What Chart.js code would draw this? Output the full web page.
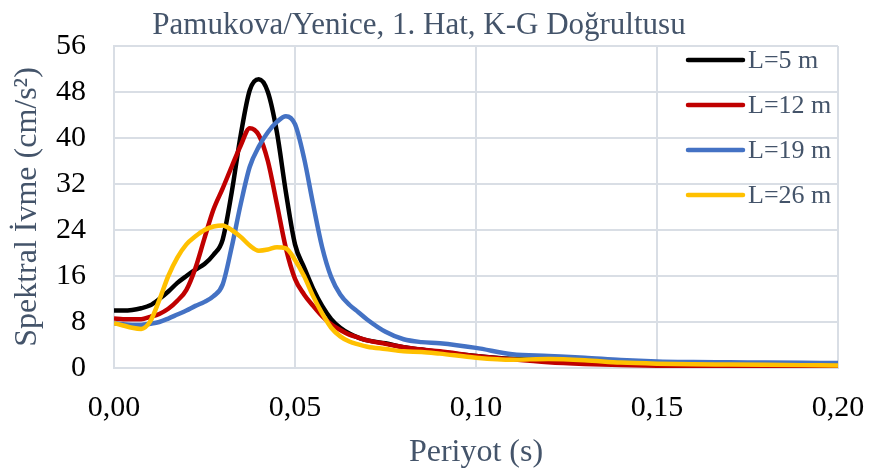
<!DOCTYPE html>
<html>
<head>
<meta charset="utf-8">
<script src="https://cdn.jsdelivr.net/npm/chart.js@4/dist/chart.umd.min.js"></script>
<style>
  html, body { margin: 0; padding: 0; background: #ffffff; }
  #wrap { width: 870px; height: 472px; }
</style>
</head>
<body>
<div id="wrap"><canvas id="c" width="870" height="472"></canvas></div>
<script>
const chartTitle = "Pamukova/Yenice, 1. Hat, K-G Doğrultusu";
const xAxisTitle = "Periyot (s)";
const yAxisTitle = "Spektral İvme (cm/s²)";
const seriesLabels = ["L=5 m", "L=12 m", "L=19 m", "L=26 m"];

const periods = [0, 0.0025, 0.005, 0.0075, 0.01, 0.0125, 0.015, 0.0175, 0.02, 0.0225,
  0.025, 0.0275, 0.03, 0.0325, 0.035, 0.0375, 0.04, 0.0425, 0.045, 0.0475,
  0.05, 0.0525, 0.055, 0.0575, 0.06, 0.0625, 0.065, 0.0675, 0.07, 0.075,
  0.08, 0.085, 0.09, 0.10, 0.11, 0.12, 0.13, 0.14, 0.15, 0.16,
  0.17, 0.18, 0.19, 0.20];

const accL5 = [10.0, 10.0, 10.1, 10.4, 10.9, 12.0, 13.3, 14.8, 16.0, 17.1,
  18.1, 19.7, 22.3, 30.5, 40.5, 48.3, 50.2, 48.0, 41.0, 30.5,
  21.5, 17.5, 13.8, 10.8, 8.5, 7.0, 6.0, 5.3, 4.8, 4.3,
  3.6, 3.2, 2.8, 2.1, 1.6, 1.4, 1.2, 0.9, 0.75, 0.65,
  0.6, 0.55, 0.5, 0.5];

const accL12 = [8.6, 8.5, 8.5, 8.5, 8.9, 9.4, 10.3, 11.7, 13.6, 17.4,
  22.6, 27.6, 31.2, 35.0, 38.7, 41.7, 40.5, 36.0, 28.5, 20.8,
  15.5, 12.8, 10.8, 9.0, 7.6, 6.6, 5.8, 5.3, 4.8, 4.2,
  3.6, 3.2, 2.9, 2.1, 1.5, 1.0, 0.7, 0.5, 0.4, 0.3,
  0.3, 0.25, 0.2, 0.2];

const accL19 = [7.8, 7.6, 7.5, 7.5, 7.7, 8.0, 8.6, 9.3, 10.0, 10.8,
  11.5, 12.5, 14.5, 21.0, 28.5, 35.0, 38.5, 41.0, 42.8, 43.8,
  42.4, 36.5, 28.5, 21.0, 15.8, 12.8, 11.0, 9.7, 8.4, 6.3,
  5.0, 4.5, 4.3, 3.5, 2.4, 2.1, 1.8, 1.4, 1.15, 1.05,
  1.0, 0.95, 0.9, 0.85];

const accL26 = [7.8, 7.4, 7.0, 6.8, 8.1, 11.8, 16.0, 19.2, 21.5, 22.9,
  24.0, 24.6, 24.8, 24.0, 22.8, 21.3, 20.4, 20.6, 21.0, 20.8,
  18.8, 16.0, 12.5, 9.5, 7.0, 5.5, 4.6, 4.1, 3.7, 3.3,
  2.9, 2.8, 2.5, 1.8, 1.45, 1.55, 1.35, 0.95, 0.75, 0.65,
  0.6, 0.55, 0.5, 0.45];

const xTicks = [0, 0.05, 0.10, 0.15, 0.20];
const yTicks = [0, 8, 16, 24, 32, 40, 48, 56];

const seriesValues = [accL5, accL12, accL19, accL26];
const seriesColors = ["#000000", "#C00000", "#4472C4", "#FFC000"];

const SERIF = '"Liberation Serif", "Times New Roman", serif';
const TEXT2 = "#44546A";
const GRID = "#D9DEE5";

function toPoints(vals) {
  return periods.map((p, i) => ({ x: p, y: vals[i] }));
}

const datasets = seriesLabels.map((lab, i) => ({
  label: lab,
  data: toPoints(seriesValues[i]),
  borderColor: seriesColors[i],
  backgroundColor: seriesColors[i],
  borderWidth: 4.5,
  pointRadius: 0,
  fill: false,
  cubicInterpolationMode: 'monotone',
  order: seriesLabels.length - i
}));

const legendPlugin = {
  id: 'insideLegend',
  afterDraw(chart) {
    const ctx = chart.ctx;
    const x0 = 688, x1 = 743, tx = 748;
    const ys = [60, 105, 150, 195];
    ctx.save();
    chart.data.datasets.forEach((ds, i) => {
      const y = ys[i];
      ctx.beginPath();
      ctx.lineCap = 'round';
      ctx.lineWidth = 4.5;
      ctx.strokeStyle = ds.borderColor;
      ctx.moveTo(x0, y);
      ctx.lineTo(x1, y);
      ctx.stroke();
      ctx.fillStyle = TEXT2;
      ctx.font = '26px ' + SERIF;
      ctx.textBaseline = 'middle';
      ctx.textAlign = 'left';
      ctx.fillText(ds.label, tx, y + 1);
    });
    ctx.restore();
  }
};

new Chart(document.getElementById('c'), {
  type: 'line',
  data: { datasets },
  plugins: [legendPlugin],
  options: {
    responsive: false,
    animation: false,
    layout: { padding: { left: 0, right: 32, top: 0, bottom: 0 } },
    plugins: {
      legend: { display: false },
      tooltip: { enabled: false },
      title: {
        display: true,
        text: chartTitle,
        color: TEXT2,
        font: { family: SERIF, size: 31, weight: 'normal', lineHeight: 1.0 },
        padding: { top: 0, bottom: 5 }
      }
    },
    scales: {
      x: {
        type: 'linear',
        min: 0,
        max: 0.2,
        afterBuildTicks: (scale) => { scale.ticks = xTicks.map(v => ({ value: v })); },
        afterFit: (scale) => { scale.height = 104; scale.paddingLeft = 0; scale.paddingRight = 0; },
        ticks: {
          color: '#000000',
          font: { family: SERIF, size: 30 },
          padding: 22,
          maxRotation: 0,
          callback: (v) => Number(v).toFixed(2).replace('.', ',')
        },
        grid: { color: GRID, lineWidth: 2, drawTicks: false },
        border: { color: GRID, width: 2 },
        title: {
          display: true,
          text: xAxisTitle,
          color: TEXT2,
          font: { family: SERIF, size: 32 },
          padding: { top: 0, bottom: 0 }
        }
      },
      y: {
        type: 'linear',
        min: 0,
        max: 56,
        afterBuildTicks: (scale) => { scale.ticks = yTicks.map(v => ({ value: v })); },
        afterFit: (scale) => { scale.width = 114; },
        ticks: {
          color: '#000000',
          font: { family: SERIF, size: 30 },
          padding: 28
        },
        grid: { color: GRID, lineWidth: 2, drawTicks: false },
        border: { color: GRID, width: 2 },
        title: {
          display: true,
          text: yAxisTitle,
          color: TEXT2,
          font: { family: SERIF, size: 32 },
          padding: { top: 8, bottom: 0 }
        }
      }
    }
  }
});
</script>
</body>
</html>
